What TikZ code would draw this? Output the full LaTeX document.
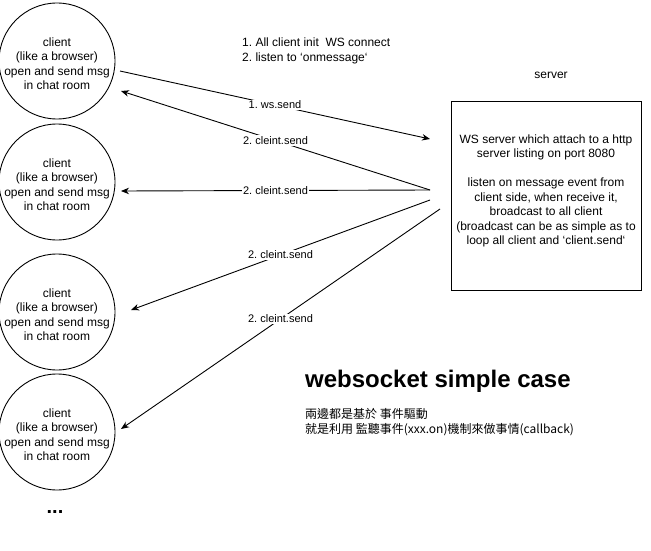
\documentclass[tikz,border=0pt]{standalone}
\usepackage{fontspec}
\setmainfont{Liberation Sans}
\newfontfamily\cjk{Noto Sans CJK TC}
\usetikzlibrary{arrows.meta}
\frenchspacing
\newcommand{\bq}{\symbol{96}}
\newcommand{\cltext}{\raisebox{-7pt}[0pt][0pt]{\begin{tabular}{@{}c@{}}client\\(like a browser)\\open and send msg\\in chat room\end{tabular}}}
\tikzset{
  client/.style={draw, line width=0.9pt, circle, minimum size=116pt, inner sep=0pt, font=\fontsize{12}{14.5}\selectfont},
  conn/.style={line width=0.9pt, -{Stealth[length=8pt,width=6.5pt,inset=2.5pt]}},
  lbl/.style={fill=white, inner sep=1pt, font=\fontsize{11}{13}\selectfont},
  txt/.style={align=left, inner sep=0pt, font=\fontsize{12}{15}\selectfont},
}
\renewcommand{\arraystretch}{1.0}
\begin{document}
\begin{tikzpicture}[x=1pt,y=-1pt]
\useasboundingbox (0,0) rectangle (651,551);
\node[client] (c1) at (57,61) {\cltext};
\node[client] (c2) at (57,182) {\cltext};
\node[client] (c3) at (57,312) {\cltext};
\node[client] (c4) at (57,432) {\cltext};
\node[font=\bfseries\fontsize{20}{24}\selectfont] (dots) at (55,512) {...};

\node[draw, line width=0.9pt, minimum width=190pt, minimum height=189pt, inner sep=0pt] (srv) at (546,195.5) {};
\node[align=center, inner sep=0pt, font=\fontsize{12}{14.5}\selectfont] (srvtxt) at (546,191) {WS server which attach to a http\\server listing on port 8080\\[14.5pt]listen on message event from\\client side, when receive it,\\broadcast to all client\\(broadcast can be as simple as to\\loop all client and \bq client.send\bq};
\node[font=\fontsize{12}{15}\selectfont] (srvlbl) at (551,75) {server};

\node[txt, anchor=west] (steps) at (242,50.5) {1. All client init\ \ WS connect\\2. listen to \bq onmessage\bq};

\node[anchor=west, inner sep=0pt, font=\bfseries\fontsize{24}{28}\selectfont] (title) at (305,381) {websocket simple case};
\node[anchor=west, align=left, inner sep=0pt, font=\cjk\fontsize{12}{15}\selectfont] (note) at (305,422.5) {兩邊都是基於 事件驅動\\就是利用 監聽事件(xxx.on)機制來做事情(callback)};

\coordinate (a1s) at (120,71);  \coordinate (a1e) at (430,139);
\coordinate (a2s) at (430,190); \coordinate (a2e) at (121,91);
\coordinate (a3e) at (121,191);
\coordinate (a4s) at (430,200); \coordinate (a4e) at (131,310);
\coordinate (a5s) at (440,209); \coordinate (a5e) at (121,429);

\draw[conn] (a1s) -- node[lbl] {1. ws.send} (a1e);
\draw[conn] (a2s) -- node[lbl] {2. cleint.send} (a2e);
\draw[conn] (a2s) -- node[lbl] {2. cleint.send} (a3e);
\draw[conn] (a4s) -- node[lbl] {2. cleint.send} (a4e);
\draw[conn] (a5s) -- node[lbl] {2. cleint.send} (a5e);
\end{tikzpicture}
\end{document}
